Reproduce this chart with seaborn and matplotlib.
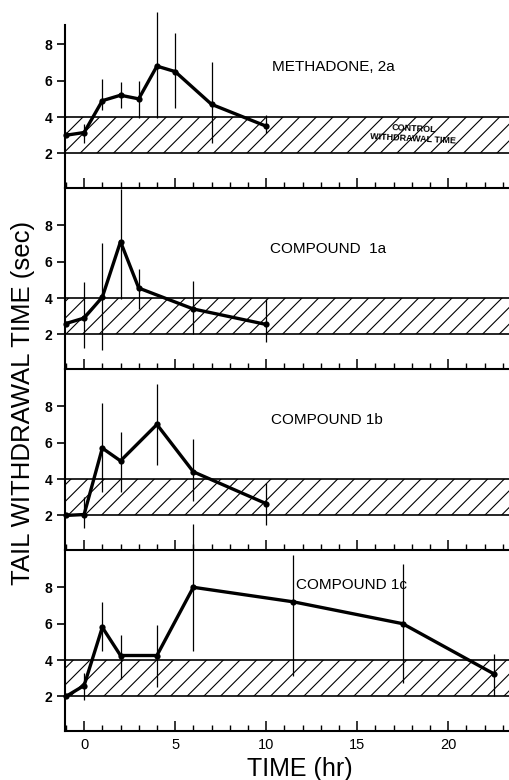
import numpy as np
import matplotlib
matplotlib.use("Agg")
import matplotlib.pyplot as plt
import seaborn as sns
from matplotlib.ticker import MultipleLocator

# ===== DATA =====
nan = np.nan

methadone_t = [-1, 0, 1, 2, 3, 4, 5, 7, 10]
methadone_mean = [3.0, 3.15, 4.9, 5.2, 5.0, 6.8, 6.5, 4.7, 3.5]
methadone_lo = [nan, 2.6, 4.4, 4.5, 3.95, 3.95, 4.5, 2.6, 3.1]
methadone_hi = [nan, 3.6, 6.1, 5.9, 6.0, 9.75, 8.6, 7.05, 4.1]

c1a_t = [-1, 0, 1, 2, 3, 6, 10]
c1a_mean = [2.6, 2.9, 4.05, 7.1, 4.55, 3.4, 2.55]
c1a_lo = [nan, 1.27, 1.15, 3.95, 3.4, 2.0, 1.6]
c1a_hi = [nan, 4.9, 7.0, 10.0, 5.6, 4.95, 3.94]

c1b_t = [-1, 0, 1, 2, 4, 6, 10]
c1b_mean = [2.0, 2.05, 5.7, 5.0, 7.0, 4.4, 2.65]
c1b_lo = [nan, 1.3, 3.3, 3.3, 4.8, 2.8, 1.5]
c1b_hi = [nan, 3.0, 8.2, 6.6, 9.2, 6.2, 3.8]

c1c_t = [-1, 0, 1, 2, 4, 6, 11.5, 17.5, 22.5]
c1c_mean = [2.0, 2.6, 5.8, 4.25, 4.25, 8.0, 7.2, 6.0, 3.25]
c1c_lo = [nan, 1.8, 4.5, 2.95, 2.5, 4.5, 3.1, 2.75, 2.0]
c1c_hi = [nan, 3.3, 7.2, 5.4, 5.95, 11.5, 9.8, 9.3, 4.35]

panel_labels = ["METHADONE, 2a", "COMPOUND  1a", "COMPOUND 1b", "COMPOUND 1c"]
label_pos = [(10.3, 6.75), (10.2, 6.7), (10.25, 7.25), (11.65, 8.15)]

control_lo, control_hi = 2, 4
y_ticks = [2, 4, 6, 8]
x_major = [0, 5, 10, 15, 20]

panels = [
    (methadone_t, methadone_mean, methadone_lo, methadone_hi),
    (c1a_t, c1a_mean, c1a_lo, c1a_hi),
    (c1b_t, c1b_mean, c1b_lo, c1b_hi),
    (c1c_t, c1c_mean, c1c_lo, c1c_hi),
]

# ===== STYLE =====
sns.set_style("ticks")
plt.rcParams['font.family'] = ['Liberation Sans', 'DejaVu Sans']
plt.rcParams['hatch.linewidth'] = 0.8
for key in ['text.color', 'axes.labelcolor', 'xtick.color', 'ytick.color',
            'axes.edgecolor', 'hatch.color']:
    plt.rcParams[key] = 'black'

fig = plt.figure(figsize=(5.1, 7.8), dpi=100)

W, H = 510, 780
left_px = 65
bottoms_px = [188, 369, 550, 731]
panel_h = 181

axes = []
for i, (t, m, lo, hi) in enumerate(panels):
    b = bottoms_px[i]
    ax = fig.add_axes([left_px / W, 1 - b / H, 1 - left_px / W, panel_h / H])
    axes.append(ax)
    ax.set_facecolor("none")

    # control withdrawal band
    ax.axhspan(control_lo, control_hi, facecolor="none", edgecolor="black",
               hatch="//", lw=1.2, zorder=1)

    # error bars
    ax.vlines(t, lo, hi, color="black", lw=0.9, clip_on=False, zorder=2)

    # mean line
    sns.lineplot(x=t, y=m, ax=ax, color="black", lw=2.4, marker="o",
                 markersize=4.5, markeredgewidth=0, zorder=3, clip_on=False)

    ax.set_xlim(-1.05, 23.4)
    ax.set_ylim(0.1, 10.05)
    ax.set_yticks(y_ticks)
    ax.set_yticklabels([str(v) for v in y_ticks], fontsize=10, fontweight="bold")
    ax.xaxis.set_major_locator(MultipleLocator(5))
    ax.xaxis.set_minor_locator(MultipleLocator(1))
    ax.tick_params(axis="y", direction="out", length=6, width=1.2, pad=3)
    ax.tick_params(axis="x", which="major", direction="in", length=7, width=1.1)
    ax.tick_params(axis="x", which="minor", direction="in", length=4, width=1.0)

    for s in ["top", "right"]:
        ax.spines[s].set_visible(False)
    ax.spines["left"].set_linewidth(1.5)
    ax.spines["bottom"].set_linewidth(1.5)
    if i == 0:
        ax.spines["left"].set_bounds(0.1, 9.05)

    if i < 3:
        ax.set_xticklabels([])
    else:
        ax.set_xticks(x_major)
        ax.set_xticklabels([str(v) for v in x_major], fontsize=10.5)
        ax.tick_params(axis="x", which="major", pad=5)

    ax.set_xlabel("")
    ax.set_ylabel("")

    lx, ly = label_pos[i]
    ax.text(lx, ly, panel_labels[i], fontsize=11, ha="left", va="center")

# control label inside band of the top panel
axes[0].text(18.1, 3.1, "CONTROL\nWITHDRAWAL TIME", fontsize=6.5, fontweight="bold",
             ha="center", va="center", rotation=-3, linespacing=1.1)

fig.text(23 / W, 1 - 403 / H, "TAIL WITHDRAWAL TIME (sec)", rotation=90,
         fontsize=18.5, ha="center", va="center")
fig.text(300 / W, 1 - 769 / H, "TIME (hr)", fontsize=18, ha="center", va="center")

fig.savefig("out.png", dpi=100)
